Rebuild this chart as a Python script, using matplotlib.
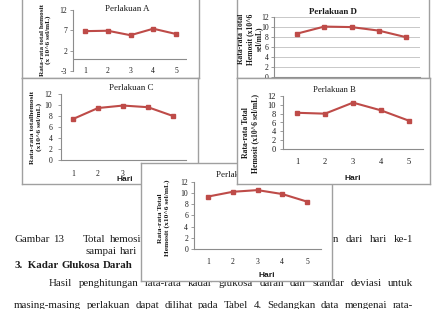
import matplotlib
matplotlib.use("Agg")
import matplotlib.pyplot as plt

W, H = 433, 309

# ---------------- data ----------------
days = [1, 2, 3, 4, 5]
day_labels = ["1", "2", "3", "4", "5"]
vals_A = [6.8, 6.9, 5.8, 7.4, 6.1]
vals_B = [8.2, 8.0, 10.5, 8.75, 6.4]
vals_C = [7.45, 9.45, 9.9, 9.6, 8.0]
vals_D = [8.6, 10.0, 9.9, 9.2, 7.9]
vals_E = [9.35, 10.2, 10.5, 9.8, 8.45]
yticks_A = [-3, 2, 7, 12]
yticks_std = [0, 2, 4, 6, 8, 10, 12]

SERIF = "Liberation Serif"
SANS = "Liberation Sans"
RED = "#BE4B48"
SPINE = "#8c8c8c"
BOXC = "#a0a0a0"
TXT = "#1a1a1a"

fig = plt.figure(figsize=(W / 100, H / 100), dpi=100)
fig.patch.set_facecolor("white")


def rect(x0, y0, x1, y1):
    return [x0 / W, 1 - y1 / H, (x1 - x0) / W, (y1 - y0) / H]


def box(x0, y0, x1, y1, z):
    ax = fig.add_axes(rect(x0, y0, x1, y1), zorder=z)
    ax.set_xlim(x0, x1)
    ax.set_ylim(y1, y0)
    ax.set_xticks([])
    ax.set_yticks([])
    for s in ax.spines.values():
        s.set_color(BOXC)
        s.set_linewidth(1.0)
    ax.set_facecolor("white")
    return ax


def plot_ax(xl, xr, yt, yb, ymin, ymax, x1px, x5px, z, values, yticks,
            tick_fs=5.5, ylab_pad=2.0, xlab_off=13, grid=False, zero_line=False,
            xlabels=None):
    ax = fig.add_axes(rect(xl, yt, xr, yb), zorder=z)
    ax.patch.set_alpha(0)
    u = (x5px - x1px) / 4
    ax.set_xlim(1 - (x1px - xl) / u, 5 + (xr - x5px) / u)
    ax.set_ylim(ymin, ymax)
    ax.plot(days, values, color=RED, lw=1.5, marker="s", ms=2.6,
            markeredgecolor=RED, markerfacecolor=RED, zorder=3, clip_on=False)
    ax.spines["top"].set_visible(False)
    ax.spines["right"].set_visible(False)
    for s in ("left", "bottom"):
        ax.spines[s].set_color(SPINE)
        ax.spines[s].set_linewidth(0.8)
    ax.set_yticks(yticks)
    ax.set_yticklabels([str(t) for t in yticks], fontsize=tick_fs,
                       family=SERIF, color=TXT)
    ax.tick_params(axis="y", length=2.2, width=0.6, color=SPINE, pad=ylab_pad)
    ax.set_xticks(days)
    ax.set_xticklabels(day_labels if xlabels is None else xlabels,
                       fontsize=tick_fs, family=SERIF, color=TXT)
    ax.tick_params(axis="x", length=0, pad=xlab_off * 0.72)
    plt.setp(ax.get_xticklabels(), va="center")
    if grid:
        ax.yaxis.grid(True, color="#c8c8c8", lw=0.7)
        ax.set_axisbelow(True)
    if zero_line:
        ax.spines["bottom"].set_visible(False)
        ax.axhline(0, color=SPINE, lw=0.8, zorder=1)
    return ax


def ytitle(bax, x, y, s, fs, ls=1.15):
    bax.text(x, y, s, rotation=90, ha="center", va="center", family=SERIF,
             fontweight="bold", fontsize=fs, color=TXT, multialignment="center",
             linespacing=ls, clip_on=True)


def title(bax, x, y, s, fs, bold=False):
    bax.text(x, y, s, ha="center", va="center", family=SERIF, fontsize=fs,
             fontweight="bold" if bold else "normal", color=TXT, clip_on=True)


def hari(bax, x, y):
    bax.text(x, y, "Hari", ha="center", va="center", family=SANS,
             fontweight="bold", fontsize=6, color=TXT, clip_on=True)


# ---------------- body text (behind chart E) ----------------
BODY_FS = 7.8
renderer = fig.canvas.get_renderer()


def place_words(words, x_start, y, gap, align="left", fs=BODY_FS, weight="normal"):
    ts = [fig.text(0, 1 - y / H, w, fontsize=fs, family=SERIF, va="center",
                   fontweight=weight, color=TXT, zorder=1) for w in words]
    widths = [t.get_window_extent(renderer).width for t in ts]
    if align == "left":
        x = x_start
        for t, w in zip(ts, widths):
            t.set_x(x / W)
            x += w + gap
    else:
        x = x_start
        for t, w in zip(reversed(ts), reversed(widths)):
            x -= w
            t.set_x(x / W)
            x -= gap


def justify(words, x0, x1, y, fs=BODY_FS):
    ts = [fig.text(0, 1 - y / H, w, fontsize=fs, family=SERIF, va="center",
                   color=TXT, zorder=1) for w in words]
    widths = [t.get_window_extent(renderer).width for t in ts]
    gap = ((x1 - x0) - sum(widths)) / (len(words) - 1)
    x = x0
    for t, w in zip(ts, widths):
        t.set_x(x / W)
        x += w + gap


place_words(["Gambar", "13"], 14, 240, 4)
place_words(["Total", "hemosit"], 83, 240, 4.5)
place_words(["perlakuan", "dari", "hari", "ke-1"], 413, 240, 6.5, align="right")
place_words(["sampai", "hari"], 86, 252, 3)
place_words(["3.", " Kadar", "Glukosa", "Darah"], 14, 265, 3, weight="bold")
justify("Hasil penghitungan rata-rata kadar glukosa darah dan standar deviasi untuk".split(),
        49, 413, 284)
justify("masing-masing perlakuan dapat dilihat pada Tabel 4.  Sedangkan data mengenai rata-".split(),
        14, 413, 305)

# ---------------- chart A ----------------
bA = box(22, -3, 199, 78, 2)
plot_ax(73, 187, 10, 71, -3, 12, 85, 176, 3, vals_A, yticks_A,
        tick_fs=5.5, xlab_off=0, zero_line=True)
title(bA, 127, 9, "Perlakuan A", 6.5)
ytitle(bA, 45.5, 40, "Rata-rata total hemosit\n(x 10^6 sel/mL)", 5.2)

# ---------------- chart D (its day labels lie hidden under chart B) ----------------
bD = box(237, -3, 429, 78, 4)
plot_ax(274, 420, 16.5, 77, 0, 12, 297, 406, 5, vals_D, yticks_std,
        tick_fs=5.5, ylab_pad=1.5, grid=True, xlabels=[""] * 5)
title(bD, 333, 12, "Perlakuan D", 6.4, bold=True)
ytitle(bD, 250, 39, "Rata-rata Total\nHemosit (x10^6\nsel/mL)", 5.5, ls=1.1)

# ---------------- chart C (days 4-5 hidden under chart E) ----------------
bC = box(22, 78, 198, 184, 6)
plot_ax(61, 186, 94, 160, 0, 12, 73, 173, 7, vals_C, yticks_std,
        tick_fs=5.5, ylab_pad=4, xlab_off=14, xlabels=day_labels[:3] + ["", ""])
title(bC, 131, 88, "Perlakuan C", 6.5)
ytitle(bC, 36, 127, "Rata-rata totalhemosit\n(x10^6 sel/mL)", 5.4)
hari(bC, 125, 179)

# ---------------- chart E ----------------
bE = box(141, 163, 332, 281, 8)
plot_ax(194, 321, 181.7, 249, 0, 12, 208, 307, 9, vals_E, yticks_std,
        tick_fs=5.5, ylab_pad=2, xlab_off=13)
title(bE, 238, 175, "Perlakuan E", 6.5)
ytitle(bE, 164, 218, "Rata-rata Total\nHemosit (x10^6 sel/mL)", 5.4)
hari(bE, 267, 275)

# ---------------- chart B ----------------
bB = box(237, 78, 430, 184, 10)
plot_ax(283, 423, 96, 149, 0, 12, 297, 409, 11, vals_B, yticks_std,
        tick_fs=6, ylab_pad=3, xlab_off=13)
title(bB, 334, 90, "Perlakuan B", 6.2)
ytitle(bB, 250.5, 133, "Rata-rata Total\nHemosit (x10^6 sel/mL)", 5.6)
hari(bB, 353, 178)

fig.savefig("out.png", dpi=100, facecolor="white")
